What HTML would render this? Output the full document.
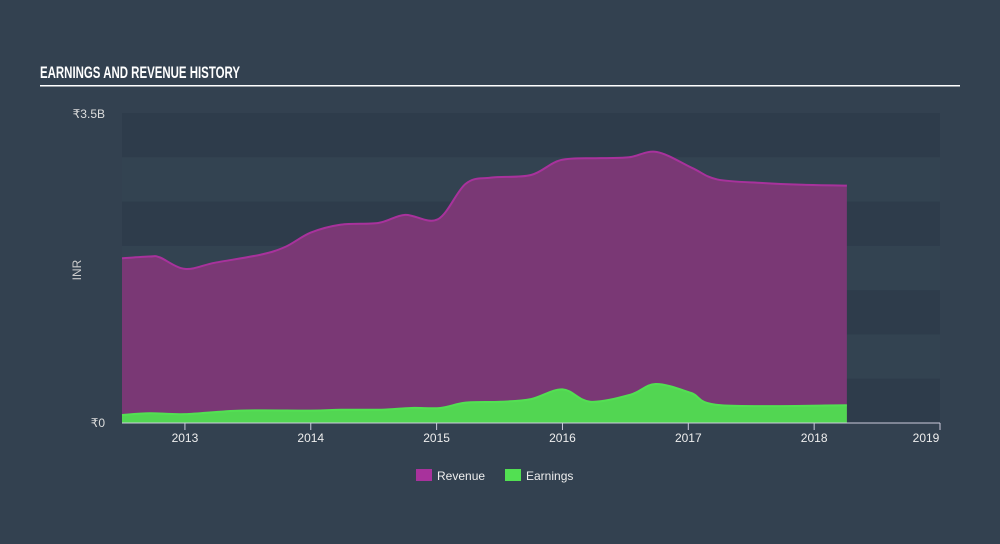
<!DOCTYPE html>
<html><head><meta charset="utf-8"><style>
body{margin:0;width:1000px;height:544px;background:#334150;font-family:"Liberation Sans",sans-serif;overflow:hidden}
svg{display:block}
</style></head><body>
<svg id="c" width="1000" height="544">
<text x="40" y="78" fill="#fff" font-size="17" font-weight="bold" font-family="'Liberation Sans Narrow','Liberation Sans',sans-serif" textLength="200" lengthAdjust="spacingAndGlyphs">EARNINGS AND REVENUE HISTORY</text>
<rect x="40" y="85" width="920" height="1.5" fill="#fff"/>
<g id="bands"></g>
<g id="areas"></g>
<g id="axis"></g>
<text x="105" y="118" fill="#ddd" font-size="12" text-anchor="end">₹3.5B</text>
<text x="105" y="427" fill="#ddd" font-size="12" text-anchor="end">₹0</text>
<text transform="translate(81,270) rotate(-90)" fill="#ccc" font-size="12" text-anchor="middle">INR</text>
<g><rect x="416" y="469" width="16" height="12" fill="#a8329c"/><text x="437" y="480" fill="#eee" font-size="12">Revenue</text></g>
<g><rect x="505" y="469" width="16" height="12" fill="#52e052"/><text x="526" y="480" fill="#eee" font-size="12">Earnings</text></g>
</svg>
<script>
const years=[2013,2014,2015,2016,2017,2018,2019];
const revT=[2012.5,2012.72,2012.8,2013.0,2013.24,2013.6,2013.8,2014.0,2014.24,2014.54,2014.75,2015.01,2015.23,2015.43,2015.75,2015.99,2016.31,2016.53,2016.75,2017.03,2017.23,2017.59,2017.91,2018.26];
const revV=[1.86,1.88,1.87,1.74,1.81,1.90,1.99,2.15,2.24,2.26,2.35,2.30,2.70,2.77,2.80,2.97,2.99,3.00,3.06,2.88,2.75,2.71,2.69,2.68];
const earnT=[2012.5,2012.72,2013.0,2013.44,2014.0,2014.24,2014.56,2014.8,2015.03,2015.23,2015.51,2015.75,2016.0,2016.22,2016.54,2016.74,2017.02,2017.26,2018.26];
const earnV=[0.09,0.11,0.10,0.14,0.14,0.15,0.15,0.17,0.17,0.23,0.24,0.27,0.38,0.24,0.32,0.44,0.34,0.20,0.20];
const X0=122,X1=940,Y0=423,Y1=113;
const xs=t=>X0+(t-2012.5)/(2019-2012.5)*(X1-X0);
const ys=v=>Y0-v/3.5*(Y0-Y1);
const NS="http://www.w3.org/2000/svg";
function mk(tag,attrs,parent){const e=document.createElementNS(NS,tag);for(const k in attrs)e.setAttribute(k,attrs[k]);parent.appendChild(e);return e;}
const bands=document.getElementById('bands');
for(let i=0;i<7;i++){const r=mk('rect',{x:X0,y:ys(3.5-i*0.5),width:X1-X0,height:ys(3.0-i*0.5)-ys(3.5-i*0.5)+0.5,fill:i%2?'#334351':'#2e3c4b'},bands);

}
function path(T,V){const p=T.map((t,i)=>[xs(t),ys(V[i])]);let d=`M${p[0][0]},${p[0][1]}`;
for(let i=0;i<p.length-1;i++){const a=p[Math.max(0,i-1)],b=p[i],c=p[i+1],e=p[Math.min(p.length-1,i+2)];
const c1=[b[0]+(c[0]-a[0])/6,b[1]+(c[1]-a[1])/6],c2=[c[0]-(e[0]-b[0])/6,c[1]-(e[1]-b[1])/6];
d+=` C${c1[0]},${c1[1]} ${c2[0]},${c2[1]} ${c[0]},${c[1]}`;}return {d,p};}
const areas=document.getElementById('areas');
function series(T,V,fill,stroke,name){const {d,p}=path(T,V);
const a=mk('path',{d:d+` L${p[p.length-1][0]},${Y0} L${p[0][0]},${Y0} Z`,fill:fill},areas);


const l=mk('path',{d:d,fill:'none',stroke:stroke,'stroke-width':2},areas);

}
series(revT,revV,'#7a3875','#a8329c','revenue');
series(earnT,earnV,'#52d652','#52e052','earnings');
const ax=document.getElementById('axis');
const bl=mk('line',{x1:X0,x2:X1,y1:Y0,y2:Y0,stroke:'#ccd',"stroke-width":1},ax);


years.forEach(y=>{const x=xs(y);
const t=mk('line',{x1:x,x2:x,y1:Y0,y2:Y0+7,stroke:'#ccd'},ax);


const tx=mk('text',{x:y===2019?x-14:x,y:Y0+19,fill:'#eee','font-size':12,'text-anchor':'middle'},ax);tx.textContent=y;

});
</script>
</body></html>
